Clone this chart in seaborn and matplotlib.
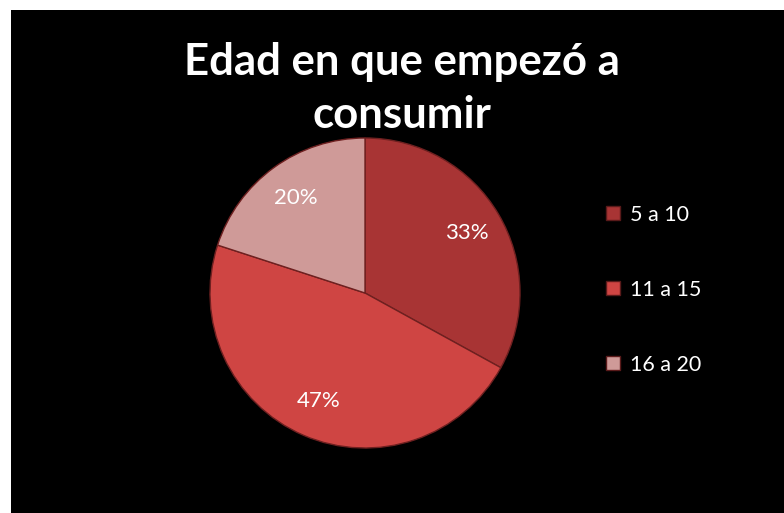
import matplotlib
matplotlib.use("Agg")
import matplotlib.pyplot as plt
import matplotlib.patches as mpatches
from matplotlib.lines import Line2D
import seaborn as sns

# data
categories = ["5 a 10", "11 a 15", "16 a 20"]
shares = [33, 47, 20]
slice_colors = ["#a83434", "#cf4543", "#cf9a98"]

sns.set_theme(style="white")
plt.rcParams['font.family'] = ['Lato', 'DejaVu Sans']

fig = plt.figure(figsize=(7.84, 5.13), dpi=100, facecolor="white")

# black chart area with a white margin at top/left
fig.patches.append(mpatches.Rectangle((11 / 784, 0), 1 - 11 / 784, 1 - 10 / 513,
                                      transform=fig.transFigure, facecolor="black",
                                      edgecolor="none", zorder=-10))

# pie axes, centre ~ (365, 293) px, radius ~155 px
cx, cy, r = 365, 293, 155
ax = fig.add_axes([(cx - r) / 784, (513 - cy - r) / 513, 2 * r / 784, 2 * r / 513])
ax.set_facecolor("none")
wedges, texts, autotexts = ax.pie(
    shares, colors=slice_colors, startangle=90, counterclock=False,
    autopct="%d%%", pctdistance=0.76,
    wedgeprops=dict(edgecolor="#6e2020", linewidth=1),
    textprops=dict(color="white", fontsize=16))
ax.set_xlim(-1, 1)
ax.set_ylim(-1, 1)
ax.set_aspect("auto")
ax.axis("off")

fig.text(0.513, 0.828, "Edad en que empezó a\nconsumir", ha="center", va="center",
         color="white", fontsize=31.5, fontweight="bold", linespacing=1.4)

handles = [Line2D([], [], marker="s", linestyle="none", markersize=10,
                  markerfacecolor=c, markeredgecolor="#5a1a1a", label=l)
           for c, l in zip(slice_colors, categories)]
leg = fig.legend(handles=handles, loc="center left", bbox_to_anchor=(0.743, 0.435),
                 frameon=False, fontsize=15.5, labelspacing=2.55, handletextpad=0.3,
                 handlelength=1.0)
for t in leg.get_texts():
    t.set_color("white")

fig.savefig("out.png", dpi=100, facecolor="white")
